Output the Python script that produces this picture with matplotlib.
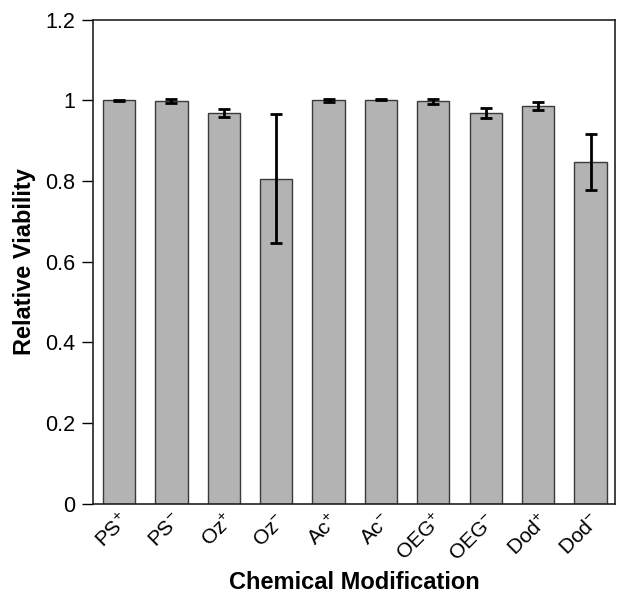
import numpy as np
import matplotlib.pyplot as plt

plt.rcParams['font.family'] = ['Liberation Sans', 'DejaVu Sans']
plt.rcParams['mathtext.fontset'] = 'custom'
plt.rcParams['mathtext.rm'] = 'Liberation Sans'

# данные
labels = ['PS+', 'PS-', 'Oz+', 'Oz-', 'Ac+', 'Ac-', 'OEG+', 'OEG-', 'Dod+', 'Dod-']
viability = [1.000, 0.998, 0.968, 0.806, 1.000, 1.002, 0.998, 0.968, 0.986, 0.847]
errors = [0.002, 0.005, 0.010, 0.161, 0.003, 0.002, 0.006, 0.012, 0.009, 0.069]

x = np.arange(len(labels))

# знак заряда пишем верхним индексом
tick_text = ['$\\mathregular{%s^{%s}}$' % (s[:-1], s[-1]) for s in labels]

fig = plt.figure(figsize=(6.17, 5.96), dpi=100)
ax = fig.add_axes([0.1505, 0.155, 0.8465, 0.812])

ax.bar(x, viability, width=0.615, color='#b3b3b3', edgecolor='#3a3a3a', linewidth=1.0,
       yerr=errors, error_kw=dict(ecolor='black', elinewidth=2, capsize=4.5, capthick=2))

ax.set_xlim(-0.5, 9.47)
ax.set_ylim(0, 1.2)
ax.set_yticks([0, 0.2, 0.4, 0.6, 0.8, 1.0, 1.2])
ax.set_yticklabels(['0', '0.2', '0.4', '0.6', '0.8', '1', '1.2'])
ax.set_xticks(x)
ax.set_xticklabels(tick_text, rotation=45, ha='right', rotation_mode='anchor')

ax.tick_params(axis='y', direction='out', length=8, width=1, labelsize=15.5, pad=5)
ax.tick_params(axis='x', length=0, labelsize=15, pad=5)

for s in ax.spines.values():
    s.set_linewidth(1.2)
    s.set_color('#222222')

ax.set_ylabel('Relative Viability', fontsize=17, fontweight='bold')
ax.set_xlabel('Chemical Modification', fontsize=17, fontweight='bold')
ax.yaxis.set_label_coords(-0.108, 0.5)
ax.xaxis.set_label_coords(0.5, -0.139)

plt.savefig('out.png', dpi=100)
